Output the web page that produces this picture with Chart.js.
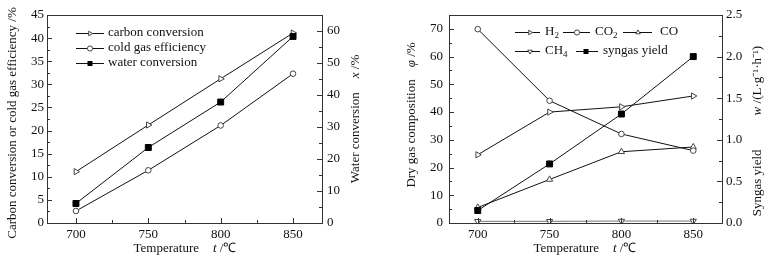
<!DOCTYPE html>
<html>
<head>
<meta charset="utf-8">
<script src="https://cdn.jsdelivr.net/npm/chart.js@4.4.1/dist/chart.umd.min.js"></script>
<style>
  html, body { margin: 0; padding: 0; background: #fff; }
  #wrap { display: flex; width: 780px; height: 264px; }
  canvas { display: block; }
</style>
</head>
<body>
<div id="wrap">
  <canvas id="conversionChart" width="390" height="264"></canvas>
  <canvas id="compositionChart" width="390" height="264"></canvas>
</div>
<script>
// Temperatures (°C), shared by both panels
const temperatures = [700, 750, 800, 850];
const xTickValues = [700, 725, 750, 775, 800, 825, 850];

// Left panel: conversion / efficiency (%)
const carbonConversion = [11.1, 21.2, 31.2, 41.1];
const coldGasEfficiency = [2.6, 11.4, 21.1, 32.3];
const waterConversion = [6.1, 23.6, 37.8, 58.3];   // right axis

// Right panel: dry gas composition (%) and syngas yield
const h2Fraction = [24.6, 40.0, 41.9, 45.8];
const co2Fraction = [69.9, 44.1, 32.1, 26.1];
const coFraction = [5.6, 15.7, 25.7, 27.4];
const ch4Fraction = [0.6, 0.6, 0.7, 0.7];
const syngasYield = [0.15, 0.71, 1.31, 2.0];       // right axis, L/(g·h)

const FONT = '"Liberation Serif", "Times New Roman", serif';
const AXIS = '#333';

function toPoints(values) {
    return temperatures.map((t, i) => ({ x: t, y: values[i] }));
}

function isMultiple(v, step) {
    return Math.abs(v / step - Math.round(v / step)) < 1e-6;
}

// Rich text: parts are [text, style] with style '', 'i', 'sub' or {gap: px}
function drawRich(ctx, parts, x, y, rotate) {
    const fontFor = st => (st === 'i' ? 'italic ' : '') + (st === 'sub' ? '9px ' : '13px ') + FONT;
    ctx.save();
    ctx.translate(x, y);
    if (rotate) ctx.rotate(-Math.PI / 2);
    ctx.textBaseline = 'middle';
    ctx.textAlign = 'left';
    ctx.fillStyle = '#111';
    let total = 0;
    parts.forEach(p => {
        if (p.gap) { total += p.gap; return; }
        ctx.font = fontFor(p[1]);
        total += ctx.measureText(p[0]).width;
    });
    let cx = -total / 2;
    parts.forEach(p => {
        if (p.gap) { cx += p.gap; return; }
        ctx.font = fontFor(p[1]);
        ctx.fillText(p[0], cx, p[1] === 'sub' ? 4 : 0);
        cx += ctx.measureText(p[0]).width;
    });
    ctx.restore();
}

function drawMarker(ctx, style, x, y, r) {
    ctx.save();
    ctx.lineWidth = 1;
    ctx.strokeStyle = '#444';
    ctx.fillStyle = '#fff';
    ctx.beginPath();
    if (style === 'circle') {
        ctx.arc(x, y, r, 0, Math.PI * 2);
        ctx.fill(); ctx.stroke();
    } else if (style === 'rect') {
        ctx.fillStyle = '#000';
        ctx.fillRect(x - r, y - r, 2 * r, 2 * r);
    } else {
        // triangle, rotation in degrees
        let rad = style * Math.PI / 180;
        for (let k = 0; k < 3; k++) {
            const px = x + Math.sin(rad) * r, py = y - Math.cos(rad) * r;
            if (k === 0) ctx.moveTo(px, py); else ctx.lineTo(px, py);
            rad += 2 * Math.PI / 3;
        }
        ctx.closePath();
        ctx.fill(); ctx.stroke();
    }
    ctx.restore();
}

// Frame, inward ticks, legend and axis titles
const decorPlugin = {
    id: 'decor',
    afterDraw(chart, args, opts) {
        const ctx = chart.ctx, a = chart.chartArea;
        ctx.save();
        ctx.strokeStyle = AXIS;
        ctx.lineWidth = 1;
        ctx.strokeRect(Math.round(a.left) + 0.5, Math.round(a.top) + 0.5,
            Math.round(a.right - a.left), Math.round(a.bottom - a.top));
        Object.values(chart.scales).forEach(s => {
            s.ticks.forEach(t => {
                const len = t.label !== '' ? 5 : 3;
                const p = Math.round(s.getPixelForValue(t.value)) + 0.5;
                ctx.beginPath();
                if (s.axis === 'x') {
                    ctx.moveTo(p, a.bottom); ctx.lineTo(p, a.bottom - len);
                } else if (s.position === 'left') {
                    ctx.moveTo(a.left, p); ctx.lineTo(a.left + len, p);
                } else {
                    ctx.moveTo(a.right, p); ctx.lineTo(a.right - len, p);
                }
                ctx.stroke();
            });
        });
        ctx.restore();

        opts.legend.forEach(e => {
            ctx.save();
            ctx.strokeStyle = '#111';
            ctx.lineWidth = 1;
            ctx.beginPath();
            ctx.moveTo(e.x1, e.y + 0.5);
            ctx.lineTo(e.x2, e.y + 0.5);
            ctx.stroke();
            ctx.restore();
            drawMarker(ctx, e.marker, e.mx, e.y + 0.5, e.marker === 'rect' ? 2.5 : 2.6);
            ctx.save();
            ctx.translate(e.tx, 0);
            let w = 0;
            ctx.font = '13px ' + FONT;
            e.parts.forEach(p => {
                ctx.font = (p[1] === 'sub' ? '9px ' : '13px ') + FONT;
                w += ctx.measureText(p[0]).width;
            });
            ctx.restore();
            drawRich(ctx, e.parts, e.tx + w / 2, e.y, false);
        });

        opts.titles.forEach(t => drawRich(ctx, t.parts, t.x, t.y, t.rotate));
    }
};

function xScale() {
    return {
        type: 'linear',
        min: 680,
        max: 870,
        afterBuildTicks: s => { s.ticks = xTickValues.map(v => ({ value: v })); },
        afterFit: s => { s.height = 41; },
        grid: { display: false, drawTicks: false },
        border: { display: false },
        ticks: {
            autoSkip: false,
            maxRotation: 0,
            padding: 4,
            color: '#111',
            font: { family: FONT, size: 13 },
            callback: v => (isMultiple(v, 50) ? String(v) : '')
        }
    };
}

function yScale(position, max, step, labelStep, width, padding, digits) {
    return {
        type: 'linear',
        position: position,
        min: 0,
        max: max,
        afterFit: s => { s.width = width; },
        grid: { display: false, drawTicks: false },
        border: { display: false },
        ticks: {
            stepSize: step,
            autoSkip: false,
            padding: padding,
            color: '#111',
            font: { family: FONT, size: 13 },
            callback: v => (isMultiple(v, labelStep) ? v.toFixed(digits) : '')
        }
    };
}

function lineSet(label, values, axis, style, color) {
    const marker = style === 'rect' ? 'rect' : style === 'circle' ? 'circle' : 'triangle';
    return {
        label: label,
        data: toPoints(values),
        yAxisID: axis,
        borderColor: color || '#111',
        borderWidth: 1,
        tension: 0,
        pointStyle: marker,
        rotation: typeof style === 'number' ? style : 0,
        pointRadius: style === 'rect' ? 4.2 : style === 'circle' ? 2.8 : 3.6,
        pointBorderWidth: 1,
        pointBorderColor: style === 'rect' ? '#000' : '#444',
        pointBackgroundColor: style === 'rect' ? '#000' : '#fff'
    };
}

const commonOptions = {
    responsive: false,
    animation: false,
    events: [],
    layout: { padding: { top: 15, left: 0, right: 0, bottom: 0 } }
};

// Left panel
new Chart(document.getElementById('conversionChart').getContext('2d'), {
    type: 'line',
    data: {
        datasets: [
            lineSet('water conversion', waterConversion, 'y1', 'rect'),
            lineSet('carbon conversion', carbonConversion, 'y', 90),
            lineSet('cold gas efficiency', coldGasEfficiency, 'y', 'circle')
        ]
    },
    options: Object.assign({}, commonOptions, {
        scales: {
            x: xScale(),
            y: yScale('left', 45, 2.5, 5, 47, 3, 0),
            y1: yScale('right', 65, 5, 10, 68, 5, 0)
        },
        plugins: {
            legend: { display: false },
            tooltip: { enabled: false },
            decor: {
                legend: [
                    { y: 33, x1: 76, x2: 104, mx: 90, tx: 108, marker: 90, parts: [['carbon conversion', '']] },
                    { y: 48, x1: 76, x2: 104, mx: 90, tx: 108, marker: 'circle', parts: [['cold gas efficiency', '']] },
                    { y: 63, x1: 76, x2: 104, mx: 90, tx: 108, marker: 'rect', parts: [['water conversion', '']] }
                ],
                titles: [
                    { x: 185, y: 249, rotate: false, parts: [['Temperature', ''], { gap: 14 }, ['t', 'i'], [' /\u2103', '']] },
                    { x: 13, y: 123, rotate: true, parts: [['Carbon conversion or cold gas efficiency /%', '']] },
                    { x: 356, y: 119, rotate: true, parts: [['Water conversion', ''], { gap: 14 }, ['x', 'i'], [' /%', '']] }
                ]
            }
        }
    }),
    plugins: [decorPlugin]
});

// Right panel
new Chart(document.getElementById('compositionChart').getContext('2d'), {
    type: 'line',
    data: {
        datasets: [
            lineSet('syngas yield', syngasYield, 'y1', 'rect'),
            lineSet('H2', h2Fraction, 'y', 90),
            lineSet('CO2', co2Fraction, 'y', 'circle'),
            lineSet('CO', coFraction, 'y', 0),
            lineSet('CH4', ch4Fraction, 'y', 180, '#777')
        ]
    },
    options: Object.assign({}, commonOptions, {
        scales: {
            x: xScale(),
            y: yScale('left', 75, 5, 10, 59, 6, 0),
            y1: yScale('right', 2.5, 0.25, 0.5, 58, 4, 1)
        },
        plugins: {
            legend: { display: false },
            tooltip: { enabled: false },
            decor: {
                legend: [
                    { y: 32, x1: 125, x2: 150, mx: 140, tx: 155, marker: 90, parts: [['H', ''], ['2', 'sub']] },
                    { y: 32, x1: 173, x2: 200, mx: 187, tx: 205, marker: 'circle', parts: [['CO', ''], ['2', 'sub']] },
                    { y: 32, x1: 233, x2: 262, mx: 248, tx: 270, marker: 0, parts: [['CO', '']] },
                    { y: 51, x1: 125, x2: 150, mx: 140, tx: 155, marker: 180, parts: [['CH', ''], ['4', 'sub']] },
                    { y: 51, x1: 186, x2: 208, mx: 196, tx: 213, marker: 'rect', parts: [['syngas yield', '']] }
                ],
                titles: [
                    { x: 195, y: 249, rotate: false, parts: [['Temperature', ''], { gap: 14 }, ['t', 'i'], [' /\u2103', '']] },
                    { x: 22, y: 115, rotate: true, parts: [['Dry gas composition', ''], { gap: 12 }, ['\u03c6', 'i'], [' /%', '']] },
                    { x: 368, y: 131, rotate: true, parts: [['Syngas yield', ''], { gap: 34 }, ['w', 'i'], [' /(L\u00b7g\u207b\u00b9\u00b7h\u207b\u00b9)', '']] }
                ]
            }
        }
    }),
    plugins: [decorPlugin]
});
</script>
</body>
</html>
